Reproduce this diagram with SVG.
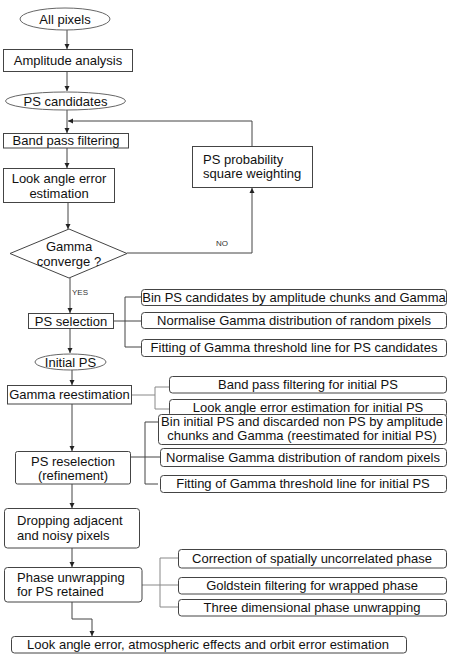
<svg xmlns="http://www.w3.org/2000/svg" width="449" height="654" viewBox="0 0 449 654">
<defs>
<marker id="ah" markerWidth="6" markerHeight="6" refX="5" refY="3" orient="auto" markerUnits="userSpaceOnUse">
<path d="M0,0.5 L5,3 L0,5.5 Z" fill="#222"/>
</marker>
<style>
text{font-family:"Liberation Sans",Arial,sans-serif;font-size:13px;fill:#111}
.c{text-anchor:middle}
.s{font-size:8px;fill:#333}
.b{fill:#fff;stroke:#444;stroke-width:1}
.e{fill:#fff;stroke:#666;stroke-width:1}
.l{fill:none;stroke:#444;stroke-width:1}
.g{fill:none;stroke:#888;stroke-width:1}
.a{fill:none;stroke:#444;stroke-width:1;marker-end:url(#ah)}
</style>
</defs>
<rect width="449" height="654" fill="#fff"/>
<g id="connectors">
<path class="a" d="M67,30 V49"/>
<path class="a" d="M67,72 V91"/>
<path class="l" d="M67,110 V121"/>
<path class="a" d="M67,121 V133"/>
<path class="a" d="M252,146 V121 H68"/>
<path class="a" d="M67,148 V168"/>
<path class="a" d="M68,203 V229"/>
<path class="a" d="M127,253 H252 V188"/>
<path class="a" d="M70,278 V313"/>
<path class="a" d="M70,329 V353"/>
<path class="a" d="M72,370 V385"/>
<path class="a" d="M72,404 V451"/>
<path class="a" d="M72,484 V508"/>
<path class="a" d="M72,548 V567"/>
<path class="a" d="M72,602 V619 H92 V636"/>
<path class="l" d="M114,321 H125 M141,297 H125 V347 H141 M125,321 H141"/>
<path class="g" d="M132,395 H155 M169,387 H155 V409 H169"/>
<path class="l" d="M131,457 H160 M158,422 H145 V484 H158"/>
<path class="g" d="M142,585 H178 M178,558 H160 V607 H178"/>
<text class="s" x="216" y="246">NO</text>
<text class="s" x="72" y="295">YES</text>
</g>
<g id="all-pixels"><ellipse class="e" cx="65" cy="19" rx="45" ry="11"/><text class="c" x="65" y="24">All pixels</text></g>
<g id="amplitude-analysis"><rect class="b" x="3.5" y="49.5" width="129" height="22"/><text class="c" x="68" y="65">Amplitude analysis</text></g>
<g id="ps-candidates"><ellipse class="e" cx="65.5" cy="101" rx="60" ry="9"/><text class="c" x="65.5" y="106">PS candidates</text></g>
<g id="band-pass"><rect class="b" x="3.5" y="133.5" width="125" height="14.5"/><text class="c" x="66" y="145">Band pass filtering</text></g>
<g id="look-angle"><rect class="b" x="3.5" y="168.5" width="111" height="34"/><text class="c" x="59" y="183">Look angle error</text><text class="c" x="59" y="198">estimation</text></g>
<g id="gamma-converge"><path class="b" d="M69,229 L127,253.5 L69,278 L10,253.5 Z"/><text class="c" x="69" y="251">Gamma</text><text class="c" x="69" y="266">converge ?</text></g>
<g id="ps-probability"><rect class="b" x="192.5" y="146.5" width="120" height="41"/><text x="203" y="164">PS probability</text><text x="203" y="178">square weighting</text></g>
<g id="ps-selection"><rect class="b" x="28.5" y="313.5" width="85" height="15"/><text class="c" x="71" y="326">PS selection</text></g>
<g id="bin-ps"><rect class="b" x="141.5" y="289.5" width="305" height="16" rx="3"/><text class="c" x="294" y="302">Bin PS candidates by amplitude chunks and Gamma</text></g>
<g id="normalise-1"><rect class="b" x="141.5" y="312.5" width="305" height="16" rx="3"/><text class="c" x="294" y="325">Normalise Gamma distribution of random pixels</text></g>
<g id="fitting-1"><rect class="b" x="141.5" y="339.5" width="305" height="17" rx="3"/><text class="c" x="294" y="352">Fitting of Gamma threshold line for PS candidates</text></g>
<g id="initial-ps"><ellipse class="e" cx="70.5" cy="362" rx="35.5" ry="8"/><text class="c" x="70.5" y="367">Initial PS</text></g>
<g id="gamma-reestimation"><rect class="b" x="7.5" y="385.5" width="124" height="18.5"/><text class="c" x="69.5" y="399">Gamma reestimation</text></g>
<g id="band-pass-initial"><rect class="b" x="169.5" y="376.5" width="277" height="16.5" rx="3"/><text class="c" x="308" y="389">Band pass filtering for initial PS</text></g>
<g id="look-angle-initial"><rect class="b" x="169.5" y="399.5" width="277" height="17" rx="3"/><text class="c" x="308" y="412">Look angle error estimation for initial PS</text></g>
<g id="ps-reselection"><rect class="b" x="15.5" y="451.5" width="115" height="32.5" rx="2"/><text class="c" x="73" y="466">PS reselection</text><text class="c" x="73" y="480">(refinement)</text></g>
<g id="bin-initial"><rect class="b" x="158.5" y="414.5" width="288" height="30" rx="3"/><text class="c" x="302" y="426">Bin initial PS and discarded non PS by amplitude</text><text class="c" x="302" y="440">chunks and Gamma (reestimated for initial PS)</text></g>
<g id="normalise-2"><rect class="b" x="160.5" y="448.5" width="286" height="18" rx="3"/><text class="c" x="303" y="462">Normalise Gamma distribution of random pixels</text></g>
<g id="fitting-2"><rect class="b" x="160.5" y="475.5" width="286" height="17" rx="3"/><text class="c" x="303" y="488">Fitting of Gamma threshold line for initial PS</text></g>
<g id="dropping"><rect class="b" x="4.5" y="508.5" width="135" height="39.5" rx="3"/><text x="17" y="525">Dropping adjacent</text><text x="17" y="540">and noisy pixels</text></g>
<g id="phase-unwrapping"><rect class="b" x="4.5" y="567.5" width="137.5" height="34.5" rx="3"/><text x="17" y="582">Phase unwrapping</text><text x="17" y="596">for PS retained</text></g>
<g id="correction"><rect class="b" x="178.5" y="549.5" width="268" height="18.5" rx="3"/><text class="c" x="312" y="563">Correction of spatially uncorrelated phase</text></g>
<g id="goldstein"><rect class="b" x="178.5" y="577.5" width="268" height="16.5" rx="3"/><text class="c" x="312" y="590">Goldstein filtering for wrapped phase</text></g>
<g id="three-d"><rect class="b" x="178.5" y="599.5" width="268" height="16.5" rx="3"/><text class="c" x="312" y="612">Three dimensional phase unwrapping</text></g>
<g id="look-angle-final"><rect class="b" x="11.5" y="636.5" width="395" height="16.5" rx="3"/><text class="c" x="208" y="649" font-size="14">Look angle error, atmospheric effects and orbit error estimation</text></g>
</svg>
